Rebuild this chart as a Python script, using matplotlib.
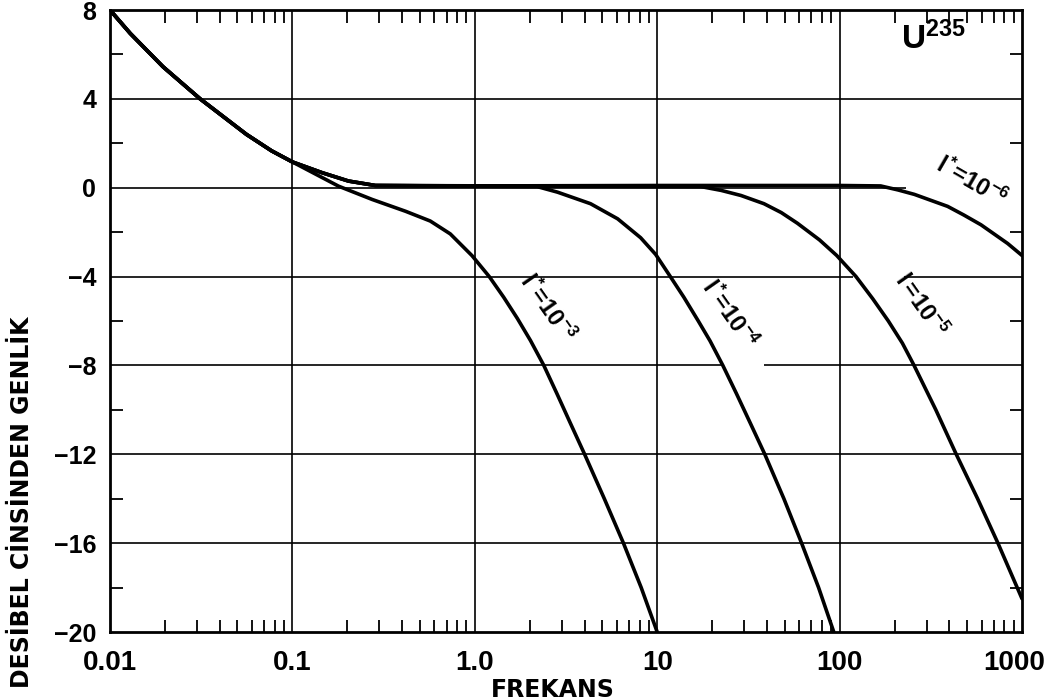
import matplotlib
matplotlib.use("Agg")
import matplotlib.pyplot as plt
from matplotlib.ticker import LogLocator, NullFormatter
from matplotlib.transforms import ScaledTranslation

# Liberation Sans bold for the numbers, DejaVu bold for the axis titles
plt.rcParams['font.family'] = ['Liberation Sans', 'DejaVu Sans']
plt.rcParams['font.weight'] = 'bold'
plt.rcParams['mathtext.fontset'] = 'custom'
plt.rcParams['mathtext.rm'] = 'Liberation Sans:bold'
plt.rcParams['mathtext.bf'] = 'Liberation Sans:bold'
plt.rcParams['mathtext.it'] = 'Liberation Sans:bold'

# --- data (frequency, dB) ---
# common low frequency part
f_low = [0.01, 0.0129, 0.0195, 0.0312, 0.056, 0.0769, 0.1]
db_low = [8.0, 6.95, 5.45, 4.0, 2.4, 1.66, 1.16]
# upper branch leading to the 0 dB plateau
f_flat = [0.145, 0.203, 0.285]
db_flat = [0.68, 0.30, 0.10]

# l* = 1e-3
f_3 = [0.179, 0.274, 0.417, 0.57, 0.734, 0.966, 1.20, 1.44, 1.71, 2.02,
       2.39, 2.82, 3.35, 4.0, 5.13, 6.53, 8.17, 10.0]
db_3 = [0.07, -0.53, -1.06, -1.5, -2.08, -3.06, -4.0, -4.93, -5.88, -6.88,
        -8.0, -9.27, -10.62, -12.0, -14.0, -16.0, -18.0, -20.0]
# l* = 1e-4
f_4 = [2.2, 2.84, 4.31, 6.07, 8.11, 9.8, 11.8, 14.0, 16.8, 19.5, 22.9, 27.2,
       32.4, 38.9, 49.5, 61.9, 76.7, 92.9]
db_4 = [0.05, -0.2, -0.72, -1.4, -2.25, -3.0, -4.0, -4.93, -6.0, -6.9, -8.0, -9.27,
        -10.6, -12.0, -14.0, -16.0, -18.0, -20.0]
# l = 1e-5
f_5 = [17.4, 22.4, 28.8, 38.5, 47.9, 58.7, 77.6, 96.4, 123, 152, 185, 221, 256,
       337, 436, 571, 738, 1000]
db_5 = [0.05, -0.12, -0.35, -0.72, -1.12, -1.6, -2.35, -3.05, -4.0, -5.0, -6.0,
        -7.0, -8.0, -10.0, -12.0, -14.0, -16.0, -18.5]
# l* = 1e-6
f_6 = [1.0, 10, 100, 168, 209, 257, 391, 480, 596, 834, 1000]
db_6 = [0.08, 0.1, 0.1, 0.08, -0.1, -0.3, -0.84, -1.23, -1.67, -2.51, -3.05]

x_ticks = [0.01, 0.1, 1, 10, 100, 1000]
x_labels = ['0.01', '0.1', '1.0', '10', '100', '1000']
y_ticks = [8, 4, 0, -4, -8, -12, -16, -20]
y_labels = ['8', '4', '0', '\u22124', '\u22128', '\u221212', '\u221216', '\u221220']

curves = [
    (f_low + f_3, db_low + db_3),
    (f_low + f_flat + f_4, db_low + db_flat + db_4),
    (f_low + f_flat + f_5, db_low + db_flat + db_5),
    (f_low + f_flat + f_6, db_low + db_flat + db_6),
]

fig = plt.figure(figsize=(10.45, 7.0), dpi=100)
ax = fig.add_axes([110 / 1045, 1 - 632 / 700, 912 / 1045, 622 / 700])
ax.set_xscale('log')
ax.set_xlim(0.01, 1000)
ax.set_ylim(-20, 8)

# grid, drawn by hand because the original has gaps behind the labels
g = dict(color='black', lw=1.2, zorder=1)
for xv in [0.1, 1, 10, 100]:
    ax.axvline(xv, **g)
for yv in [4, -12, -16]:
    ax.axhline(yv, **g)
ax.hlines(0, 0.01, 231, **g)
ax.hlines(-4, 0.01, 119, **g)
ax.hlines(-4, 225, 1000, **g)
ax.hlines(-8, 0.01, 22.9, **g)
ax.hlines(-8, 38.4, 1000, **g)

for fx, dbx in curves:
    ax.plot(fx, dbx, color='black', lw=2.6, solid_joinstyle='round',
            solid_capstyle='round', zorder=3)

# ticks
ax.set_xticks(x_ticks)
ax.set_xticklabels(x_labels)
ax.xaxis.set_minor_locator(LogLocator(base=10, subs=range(2, 10)))
ax.xaxis.set_minor_formatter(NullFormatter())
ax.set_yticks(y_ticks)
ax.set_yticklabels(y_labels)
ax.set_yticks([6, 2, -2, -6, -10, -14, -18], minor=True)
ax.tick_params(which='major', length=0)
ax.tick_params(axis='x', which='major', labelsize=20, pad=13)
ax.tick_params(axis='y', which='major', labelsize=18, pad=10)
ax.tick_params(which='minor', direction='in', length=9, width=1.3,
               top=True, bottom=True, left=True, right=True)
for sp in ax.spines.values():
    sp.set_linewidth(2.0)
# keep "1000" inside the picture
last = ax.get_xticklabels()[-1]
last.set_transform(last.get_transform() + ScaledTranslation(-0.08, 0, fig.dpi_scale_trans))

# curve labels
lab = dict(fontsize=17, ha='center', va='center', zorder=4)
ax.text(2.5, -5.4, r'$l^{*}\!=\!10^{-3}$', rotation=-55, **lab)
ax.text(24.7, -5.7, r'$l^{*}\!=\!10^{-4}$', rotation=-55, **lab)
ax.text(279, -5.3, r'$l=\!10^{-5}$', rotation=-55, **lab)
ax.text(525, 0.25, r'$l^{*}\!=\!10^{-6}$', rotation=-30, **lab)
ax.text(325, 6.7, r'$\mathrm{U}^{235}$', fontsize=24, ha='center', va='center')

fig.text(553 / 1045, 1 - 690 / 700, 'FREKANS', family='DejaVu Sans',
         fontweight='bold', fontsize=17, ha='center', va='center')
fig.text(22 / 1045, 1 - 502 / 700, 'DESİBEL CİNSİNDEN GENLİK', family='DejaVu Sans',
         fontweight='bold', fontsize=17, rotation=90, ha='center', va='center')

fig.savefig('out.png', dpi=100, facecolor='white')
